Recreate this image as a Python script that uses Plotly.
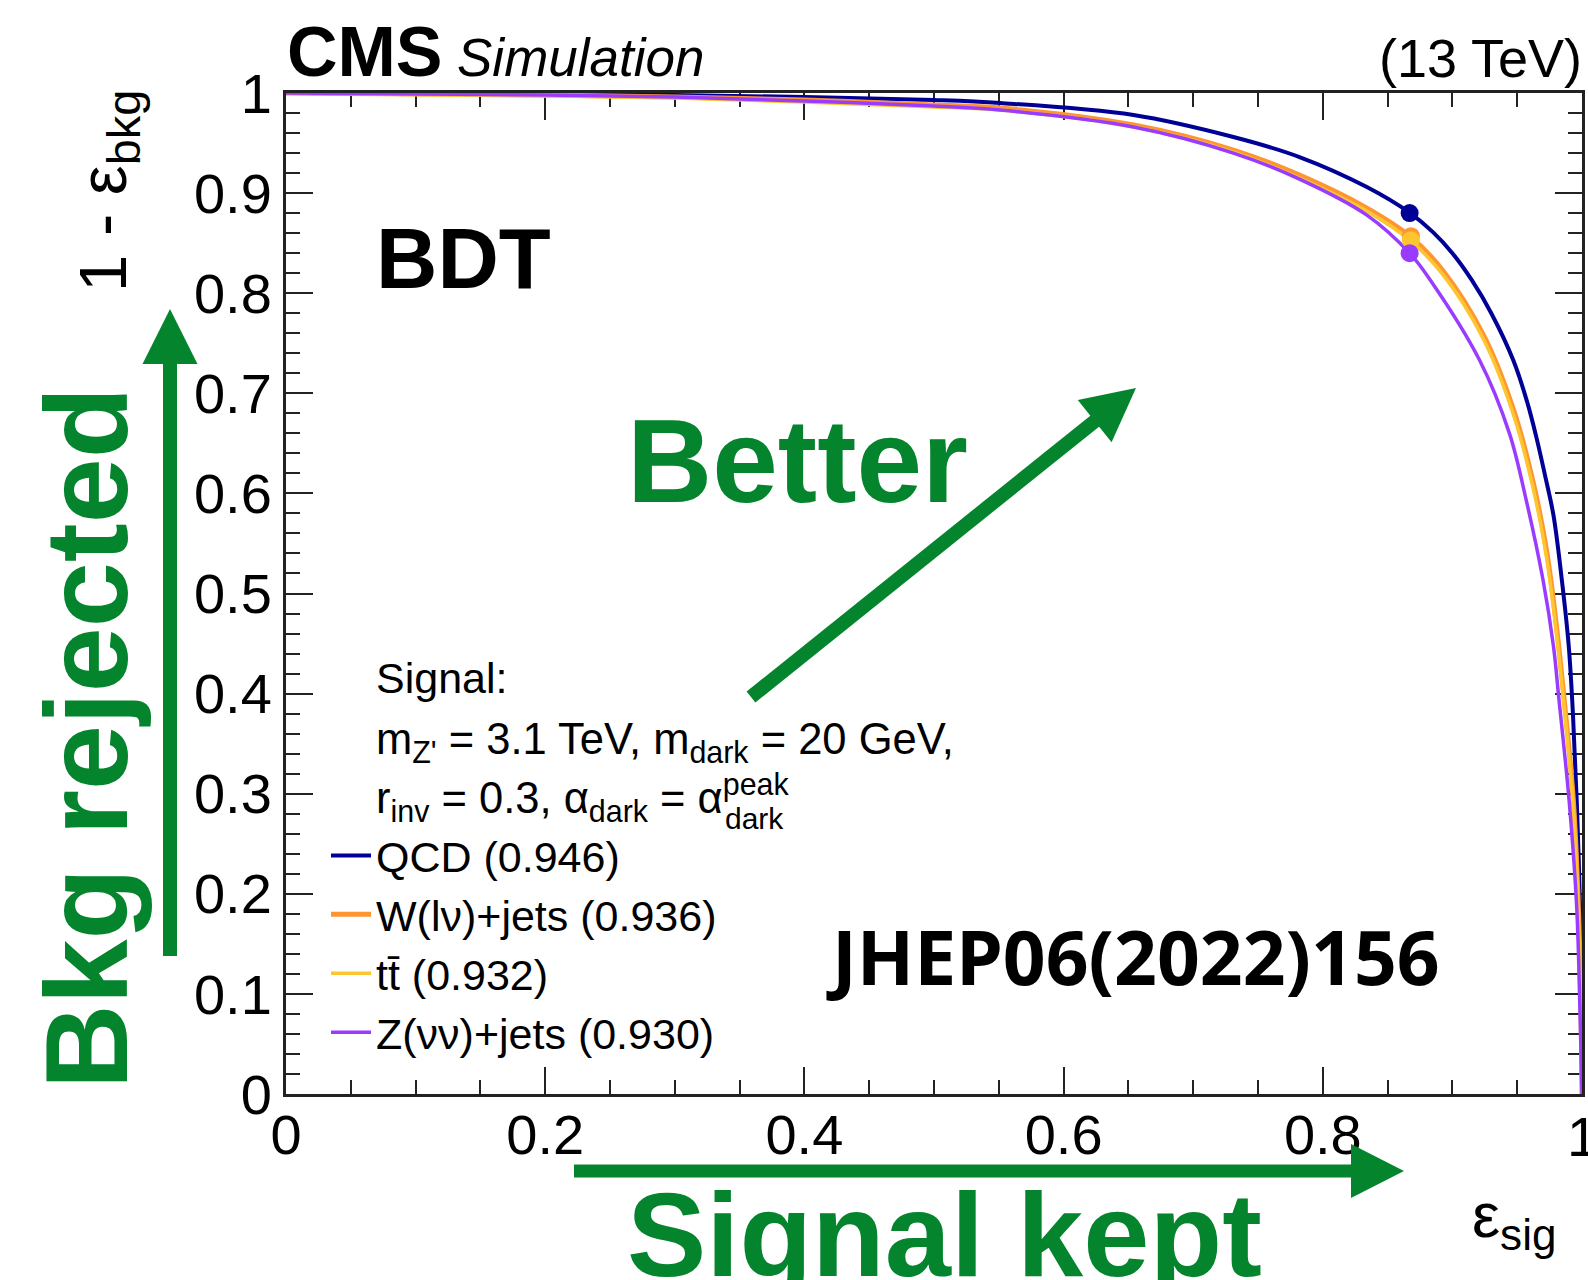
import plotly.graph_objects as go

# ---------------- data ----------------
qcd_sig = [0.0, 0.1, 0.2, 0.3, 0.4, 0.5, 0.551, 0.654, 0.731, 0.782, 0.834, 0.8674, 0.885,
           0.900, 0.915, 0.930, 0.947, 0.958, 0.965, 0.972, 0.978, 0.9845, 0.9898, 0.993,
           0.9959, 0.9985, 0.9997, 1.0]
qcd_rej = [1.0, 0.9995, 0.999, 0.998, 0.996, 0.993, 0.990, 0.978, 0.956, 0.936, 0.906, 0.880,
           0.861, 0.840, 0.813, 0.780, 0.733, 0.690, 0.655, 0.615, 0.578, 0.513, 0.447, 0.380,
           0.294, 0.187, 0.09, 0.0]

wjets_sig = [0.0, 0.1, 0.2, 0.3, 0.4, 0.5, 0.551, 0.654, 0.731, 0.782, 0.834, 0.868, 0.893,
             0.924, 0.947, 0.9625, 0.973, 0.9805, 0.986, 0.9933, 0.9972, 0.9993, 1.0]
wjets_rej = [1.0, 0.999, 0.998, 0.996, 0.993, 0.988, 0.985, 0.968, 0.943, 0.918, 0.885, 0.856,
             0.822, 0.758, 0.684, 0.610, 0.540, 0.465, 0.397, 0.294, 0.187, 0.08, 0.0]

ttbar_sig = [0.0, 0.1, 0.2, 0.3, 0.4, 0.5, 0.551, 0.654, 0.731, 0.782, 0.834, 0.868, 0.893,
             0.924, 0.947, 0.9625, 0.973, 0.9805, 0.986, 0.9933, 0.9972, 0.9993, 1.0]
ttbar_rej = [1.0, 0.9985, 0.997, 0.995, 0.991, 0.986, 0.983, 0.966, 0.941, 0.915, 0.882, 0.852,
             0.818, 0.754, 0.679, 0.604, 0.533, 0.458, 0.390, 0.287, 0.180, 0.075, 0.0]

zjets_sig = [0.0, 0.1, 0.2, 0.3, 0.4, 0.5, 0.551, 0.654, 0.731, 0.782, 0.834, 0.867, 0.883,
             0.921, 0.944, 0.957, 0.970, 0.978, 0.982, 0.990, 0.9959, 0.9985, 1.0]
zjets_rej = [1.0, 0.999, 0.998, 0.996, 0.992, 0.987, 0.983, 0.966, 0.940, 0.914, 0.878, 0.840,
             0.813, 0.733, 0.660, 0.593, 0.513, 0.447, 0.397, 0.294, 0.187, 0.08, 0.0]

series_names = ["QCD (0.946)", "W(l\u03bd)+jets (0.936)", "tt\u0304 (0.932)", "Z(\u03bd\u03bd)+jets (0.930)"]
series_colors = ["#000096", "#ff9530", "#fdc630", "#9a3cff"]

# working points (dots)
wp_sig = [0.867, 0.868, 0.868, 0.867]
wp_rej = [0.880, 0.857, 0.853, 0.840]

x_ticks = [0, 0.2, 0.4, 0.6, 0.8, 1.0]
x_ticklabels = ["0", "0.2", "0.4", "0.6", "0.8", "1"]
y_ticks = [0, 0.1, 0.2, 0.3, 0.4, 0.5, 0.6, 0.7, 0.8, 0.9, 1.0]
y_ticklabels = ["0", "0.1", "0.2", "0.3", "0.4", "0.5", "0.6", "0.7", "0.8", "0.9", "1"]

# ---------------- layout geometry ----------------
W_FIG, H_FIG = 1588, 1280
ML, MR, MT, MB = 286, 6, 93, 186
PW = W_FIG - ML - MR
PH = H_FIG - MT - MB
GREEN = "#05842e"


def px(X):
    return (X - ML) / PW


def py(Y):
    return (H_FIG - MB - Y) / PH


fig = go.Figure()

curves = [(qcd_sig, qcd_rej), (wjets_sig, wjets_rej), (ttbar_sig, ttbar_rej), (zjets_sig, zjets_rej)]
widths = [4, 5, 3.5, 3.5]
for i in range(4):
    xs, ys = curves[i]
    fig.add_trace(go.Scatter(
        x=xs, y=ys, mode="lines", name=series_names[i],
        line=dict(color=series_colors[i], width=widths[i], shape="spline", smoothing=1.0),
        cliponaxis=False,
    ))
for i in range(4):
    fig.add_trace(go.Scatter(
        x=[wp_sig[i]], y=[wp_rej[i]], mode="markers", showlegend=False,
        marker=dict(color=series_colors[i], size=18), cliponaxis=False,
    ))

axis_common = dict(
    range=[0, 1], showgrid=False, zeroline=False, showline=True, linewidth=3,
    linecolor="#222", mirror="allticks", ticks="inside", ticklen=27, tickwidth=2,
    tickcolor="#222", tickfont=dict(family="Liberation Sans", size=56, color="black"),
    automargin=False, layer="below traces",
)

fig.update_xaxes(**axis_common, tickvals=x_ticks, ticktext=x_ticklabels, ticklabelstandoff=-10,
                 minor=dict(ticks="inside", ticklen=14, tickwidth=2, tickcolor="#222", dtick=0.05))
fig.update_yaxes(**axis_common, tickvals=y_ticks, ticktext=y_ticklabels,
                 minor=dict(ticks="inside", ticklen=14, tickwidth=2, tickcolor="#222", dtick=0.02))

annotations = []


def txt(text, X, Y, size, color="black", family="Liberation Sans", xanchor="left",
        yanchor="middle", angle=0):
    annotations.append(dict(
        text=text, x=px(X), y=py(Y), xref="paper", yref="paper", showarrow=False,
        xanchor=xanchor, yanchor=yanchor, textangle=angle,
        font=dict(family=family, size=size, color=color),
    ))


# last x tick label, partly beyond the page edge as in the reference
annotations.append(dict(text=x_ticklabels[-1], x=x_ticks[-1], xref="x", y=py(1136), yref="paper",
                        showarrow=False, xanchor="center", yanchor="middle",
                        font=dict(family="Liberation Sans", size=56, color="black")))

txt("<b>CMS</b>", 285, 52, 70)
txt("<i>Simulation</i>", 455, 58, 53)
txt("(13 TeV)", 1584, 58, 54, xanchor="right")
txt("1 - \u03b5<sub>bkg</sub>", 107, 191, 67, angle=-90, xanchor="center")
txt("<b>BDT</b>", 374, 258, 85)
txt("<b>Better</b>", 625, 461, 118, color=GREEN)
txt("<b>Bkg rejected</b>", 86, 738, 117, color=GREEN, angle=-90, xanchor="center")
txt("<b>Signal kept</b>", 625, 1234, 119, color=GREEN)
txt("\u03b5<sub>sig</sub>", 1470, 1219, 63)
txt("<b>JHEP06(2022)156</b>", 824, 956, 75, family="Noto Sans")
txt("Signal:", 374, 678, 43)
txt("m<sub>Z'</sub> = 3.1 TeV, m<sub>dark</sub> = 20 GeV,", 374, 742, 43.5)
txt("r<sub>inv</sub> = 0.3, \u03b1<sub>dark</sub> = \u03b1<sup>peak</sup>", 374, 797, 43.5)
txt("dark", 723, 818, 30)

shapes = []


def arrow(x0, y0, x1, y1, width, head_len, head_half):
    dx, dy = x1 - x0, y1 - y0
    L = (dx * dx + dy * dy) ** 0.5
    ux, uy = dx / L, dy / L
    nx, ny = -uy, ux
    bx, by = x1 - head_len * ux, y1 - head_len * uy
    shapes.append(dict(type="line", xref="paper", yref="paper",
                       x0=px(x0), y0=py(y0), x1=px(bx + 2 * ux), y1=py(by + 2 * uy),
                       line=dict(color=GREEN, width=width)))
    p1 = (bx + head_half * nx, by + head_half * ny)
    p2 = (bx - head_half * nx, by - head_half * ny)
    path = "M {:.5f} {:.5f} L {:.5f} {:.5f} L {:.5f} {:.5f} Z".format(
        px(x1), py(y1), px(p1[0]), py(p1[1]), px(p2[0]), py(p2[1]))
    shapes.append(dict(type="path", xref="paper", yref="paper", path=path,
                       fillcolor=GREEN, line=dict(width=0)))


arrow(751, 697, 1136, 388, 14, 53, 27)
arrow(170, 956, 170, 309, 14, 55, 27.5)
arrow(574, 1171, 1404, 1171, 13, 53, 27)

fig.update_layout(
    width=W_FIG, height=H_FIG,
    margin=dict(l=ML, r=MR, t=MT, b=MB, pad=0),
    paper_bgcolor="white", plot_bgcolor="white",
    annotations=annotations, shapes=shapes,
    showlegend=True,
    legend=dict(x=px(326), xanchor="left", y=py(821), yanchor="top",
                font=dict(family="Liberation Sans", size=43, color="black"),
                bgcolor="rgba(0,0,0,0)", borderwidth=0, tracegroupgap=0,
                itemwidth=40, traceorder="normal"),
)

fig.write_html("out.html")
